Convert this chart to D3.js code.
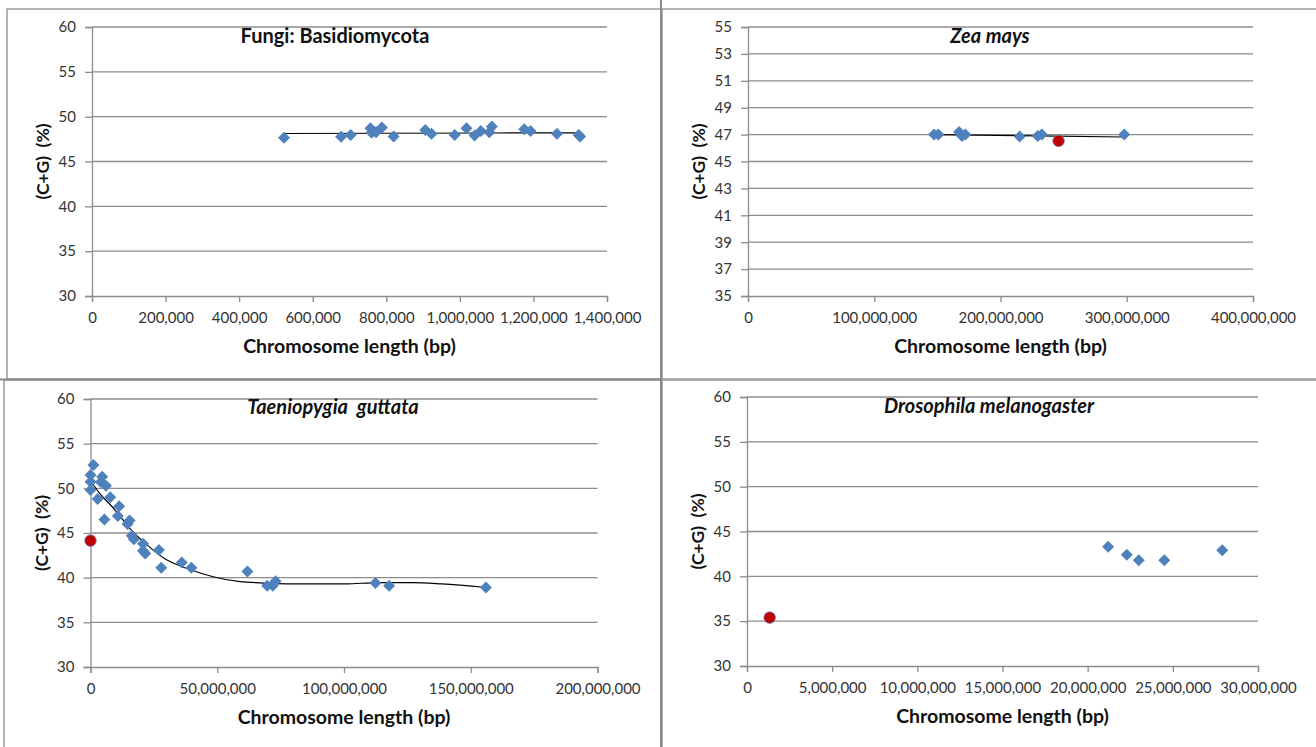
<!DOCTYPE html>
<html lang="en">
<head>
<meta charset="utf-8">
<title>C+G content vs chromosome length</title>
<script src="https://d3js.org/d3.v7.min.js"></script>
<style>
  body{margin:0;background:#fff;font-family:Lato,"Open Sans",sans-serif;}
  svg text{font-family:Lato,"Open Sans",sans-serif;}
</style>
</head>
<body>
<div id="chart"></div>
<script>
// ---- data ----
// Fungi: Basidiomycota
var fungiLen = [522000, 677000, 703000, 757000, 760000, 772000, 788000, 820000, 906000, 923000, 986000, 1018000, 1040000, 1057000, 1080000, 1087000, 1175000, 1192000, 1264000, 1323000, 1327000]
var fungiGC  = [47.66, 47.77, 47.96, 48.7, 48.2, 48.25, 48.8, 47.8, 48.5, 48.1, 47.96, 48.7, 47.9, 48.4, 48.25, 48.9, 48.6, 48.4, 48.1, 47.96, 47.8]
var fungiTrendLen = [522000, 800000, 1100000, 1327000]
var fungiTrendGC  = [48.12, 48.15, 48.18, 48.2]

// Zea mays
var zeaLen = [147400000, 150700000, 167200000, 169500000, 172200000, 215200000, 229500000, 232800000, 298000000]
var zeaGC  = [47.0, 47.0, 47.2, 46.9, 47.0, 46.85, 46.9, 47.0, 47.0]
var zeaRedLen = [246000000]
var zeaRedGC  = [46.53]
var zeaTrendLen = [147400000, 298000000]
var zeaTrendGC  = [47.0, 46.82]

// Taeniopygia guttata
var finchLen = [1160000, 0, 0, 0, 4600000, 4100000, 6100000, 2800000, 7800000, 5500000, 11300000, 10800000, 15400000, 14600000, 16300000, 17100000, 20700000, 20700000, 21600000, 27000000, 27900000, 36000000, 39800000, 61900000, 69700000, 71900000, 73000000, 112400000, 117800000, 156000000]
var finchGC  = [52.6, 51.5, 50.75, 49.8, 51.3, 50.7, 50.3, 48.8, 49.0, 46.5, 48.0, 46.9, 46.4, 46.0, 44.7, 44.3, 43.8, 43.0, 42.7, 43.1, 41.1, 41.7, 41.1, 40.7, 39.1, 39.1, 39.6, 39.4, 39.1, 38.9]
var finchRedLen = [0]
var finchRedGC  = [44.15]
var finchTrendLen = [0, 3700000, 9000000, 15600000, 22200000, 30000000, 37900000, 48400000, 59000000, 69500000, 82600000, 100400000, 113700000, 127000000, 138600000, 156000000]
var finchTrendGC  = [50.85, 49.4, 47.8, 45.5, 43.7, 42.0, 41.05, 40.1, 39.55, 39.4, 39.3, 39.3, 39.45, 39.45, 39.3, 38.9]

// Drosophila melanogaster
var drosLen = [21200000, 22300000, 23000000, 24500000, 27900000]
var drosGC  = [43.3, 42.4, 41.8, 41.8, 42.9]
var drosRedLen = [1330000]
var drosRedGC  = [35.4]

// axis ticks
var xTicksFungi = [0, 200000, 400000, 600000, 800000, 1000000, 1200000, 1400000]
var xTicksZea   = [0, 100000000, 200000000, 300000000, 400000000]
var xTicksFinch = [0, 50000000, 100000000, 150000000, 200000000]
var xTicksDros  = [0, 5000000, 10000000, 15000000, 20000000, 25000000, 30000000]
var yTicks5 = [30, 35, 40, 45, 50, 55, 60]
var yTicksZea = [35, 37, 39, 41, 43, 45, 47, 49, 51, 53, 55]

var W = 1316, H = 747
var blue = "#4f81bd", red = "#c00000", grid = "#8c8c8c"

var svg = d3.select("#chart").append("svg").attr("width", W).attr("height", H)

// panel frames
var frames = [[7, 9, 654, 370], [662, 9, 660, 370], [4, 380, 657, 370], [662, 380, 660, 370]]
svg.selectAll("rect.frame").data(frames).enter().append("rect")
   .attr("x", function(d){ return d[0] }).attr("y", function(d){ return d[1] })
   .attr("width", function(d){ return d[2] }).attr("height", function(d){ return d[3] })
   .attr("fill", "none").attr("stroke", "#9a9a9a").attr("stroke-width", 1.5)
svg.append("line").attr("x1", 661).attr("x2", 661).attr("y1", 0).attr("y2", H)
   .attr("stroke", "#8a8a8a").attr("stroke-width", 2)
svg.append("line").attr("x1", 0).attr("x2", 661).attr("y1", 379.5).attr("y2", 379.5)
   .attr("stroke", "#8a8a8a").attr("stroke-width", 2)

var panels = [
  {title:"Fungi: Basidiomycota", italic:false, x0:92, x1:607, yT:27, yB:296, xDom:[0,1400000], yDom:[30,60],
   xTicks:xTicksFungi, yTicks:yTicks5, len:fungiLen, gc:fungiGC, trendLen:fungiTrendLen, trendGC:fungiTrendGC,
   titleX:335, titleY:43},
  {title:"Zea mays", italic:true, x0:748, x1:1253, yT:27, yB:296, xDom:[0,400000000], yDom:[35,55],
   xTicks:xTicksZea, yTicks:yTicksZea, len:zeaLen, gc:zeaGC, redLen:zeaRedLen, redGC:zeaRedGC,
   trendLen:zeaTrendLen, trendGC:zeaTrendGC, titleX:990, titleY:43},
  {title:"Taeniopygia  guttata", italic:true, x0:90.5, x1:597.5, yT:399, yB:667, xDom:[0,200000000], yDom:[30,60],
   xTicks:xTicksFinch, yTicks:yTicks5, len:finchLen, gc:finchGC, redLen:finchRedLen, redGC:finchRedGC,
   trendLen:finchTrendLen, trendGC:finchTrendGC, titleX:333, titleY:414},
  {title:"Drosophila melanogaster", italic:true, x0:747, x1:1258, yT:397, yB:666, xDom:[0,30000000], yDom:[30,60],
   xTicks:xTicksDros, yTicks:yTicks5, len:drosLen, gc:drosGC, redLen:drosRedLen, redGC:drosRedGC,
   titleX:989, titleY:413}
]

panels.forEach(drawPanel)

function drawPanel(p){
  var x = d3.scaleLinear().domain(p.xDom).range([p.x0, p.x1])
  var y = d3.scaleLinear().domain(p.yDom).range([p.yB, p.yT])
  var g = svg.append("g")

  // gridlines
  g.selectAll("line.grid").data(p.yTicks.slice(1)).enter().append("line")
   .attr("x1", p.x0).attr("x2", p.x1)
   .attr("y1", function(d){ return y(d) }).attr("y2", function(d){ return y(d) })
   .attr("stroke", grid).attr("stroke-width", 1.3)

  var xAxis = g.append("g").attr("transform", "translate(0," + p.yB + ")")
     .call(d3.axisBottom(x).tickValues(p.xTicks).tickFormat(d3.format(",")).tickSize(6).tickPadding(10))
  var yAxis = g.append("g").attr("transform", "translate(" + p.x0 + ",0)")
     .call(d3.axisLeft(y).tickValues(p.yTicks).tickSize(7).tickPadding(9))
  ;[xAxis, yAxis].forEach(function(a){
    a.select(".domain").attr("stroke", grid).attr("stroke-width", 1.3)
    a.selectAll(".tick line").attr("stroke", grid).attr("stroke-width", 1.3)
    a.selectAll("text").attr("font-size", "15px").attr("fill", "#333")
       .style("font-family", "Lato, 'Open Sans', sans-serif")
  })

  // trendline
  if (p.trendLen){
    var line = d3.line().x(function(d){ return x(d[0]) }).y(function(d){ return y(d[1]) }).curve(d3.curveMonotoneX)
    g.append("path").datum(d3.zip(p.trendLen, p.trendGC))
     .attr("d", line).attr("fill", "none").attr("stroke", "#000").attr("stroke-width", 1.2)
  }

  // diamonds
  var diamond = d3.symbol().type(d3.symbolSquare).size(72)
  g.selectAll("path.pt").data(d3.zip(p.len, p.gc)).enter().append("path")
   .attr("d", diamond)
   .attr("transform", function(d){ return "translate(" + x(d[0]) + "," + y(d[1]) + ") rotate(45)" })
   .attr("fill", blue)

  if (p.redLen){
    g.selectAll("circle.red").data(d3.zip(p.redLen, p.redGC)).enter().append("circle")
     .attr("cx", function(d){ return x(d[0]) }).attr("cy", function(d){ return y(d[1]) })
     .attr("r", 5.8).attr("fill", red).attr("stroke", "#6d8fc4").attr("stroke-width", 0.8)
  }

  // titles
  g.append("text").attr("x", p.titleX).attr("y", p.titleY).attr("text-anchor", "middle")
   .attr("font-size", "20px").attr("font-weight", "bold")
   .attr("font-style", p.italic ? "italic" : "normal").attr("fill", "#111")
   .attr("xml:space", "preserve").style("white-space", "pre")
   .text(p.title)
  g.append("text").attr("x", (p.x0 + p.x1) / 2).attr("y", p.yB + 57).attr("text-anchor", "middle")
   .attr("font-size", "19.5px").attr("font-weight", "bold").attr("fill", "#111")
   .text("Chromosome length (bp)")
  g.append("text").attr("transform", "translate(" + (p.x0 - 43) + "," + ((p.yT + p.yB) / 2) + ") rotate(-90)")
   .attr("text-anchor", "middle").attr("font-size", "17.5px").attr("font-weight", "bold").attr("fill", "#111")
   .attr("xml:space", "preserve").style("white-space", "pre")
   .text("(C+G)  (%)")
}
</script>
</body>
</html>
